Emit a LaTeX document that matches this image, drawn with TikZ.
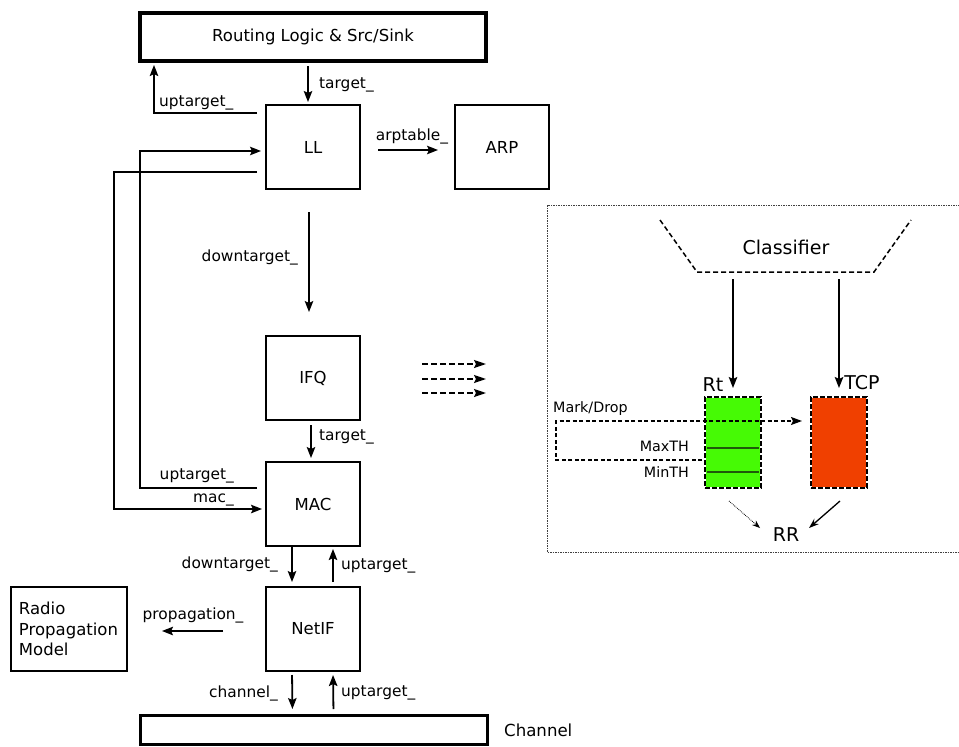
\documentclass[tikz,border=0pt]{standalone}
\usepackage{fontspec}
\setmainfont{DejaVu Sans}
\usetikzlibrary{arrows.meta,calc}
\definecolor{qgreen}{RGB}{70,250,5}
\definecolor{qred}{RGB}{240,64,0}
\definecolor{qline}{RGB}{30,90,10}
\begin{document}
\begin{tikzpicture}[x=1pt,y=-1pt,
  box/.style={draw,line width=2.6pt,inner sep=0pt,outer sep=0pt,minimum width=94pt,minimum height=84pt,font=\fontsize{16.5}{20.5}\selectfont},
  lbl/.style={inner sep=0pt,font=\fontsize{15.4}{18}\selectfont},
  sml/.style={inner sep=0pt,font=\fontsize{14.3}{17}\selectfont},
  big/.style={inner sep=0pt,font=\fontsize{19}{22}\selectfont},
  arr/.style={line width=1.8pt,-{Stealth[length=11pt,width=8.5pt,inset=2pt]}},
  darr/.style={line width=1.8pt,dash pattern=on 6pt off 3pt,-{Stealth[length=12pt,width=8pt,inset=2pt]}},
  queue/.style={draw=white,line width=1.6pt,inner sep=0pt,outer sep=0pt,minimum width=56pt,minimum height=91pt,
     postaction={draw=black,line width=1.6pt,dash pattern=on 5pt off 2pt}},
  markarr/.style={line width=1.5pt,dash pattern=on 4pt off 2.5pt,-{Stealth[length=11pt,width=8pt,inset=2pt]}},
]
\useasboundingbox (0,0) rectangle (959,747);

% main boxes
\node[box,minimum width=346pt,minimum height=48pt,line width=3.2pt] (routing) at (313,37) {Routing Logic \& Src/Sink};
\node[box] (LL) at (313,147) {LL};
\node[box] (ARP) at (502,147) {ARP};
\node[box] (IFQ) at (313,378) {IFQ};
\node[box] (MAC) at (313,504) {MAC};
\node[box] (NetIF) at (313,629) {NetIF};
\node[box,minimum width=116pt,text width=100pt,align=left] (radio) at (69,629) {Radio\\Propagation\\Model};
\node[box,minimum width=347pt,minimum height=29pt,line width=3pt] (channel) at (313.5,729.5) {};
\node[inner sep=0pt,anchor=west,font=\fontsize{16.6}{20}\selectfont] (chlbl) at (504,730) {Channel};

% connectors
\draw[arr,shorten <=5pt,shorten >=3pt] ([shift={(-5,0)}]routing.south) -- ([shift={(-5,0)}]LL.north);
\node[lbl,anchor=west] (l1) at (319,85) {target\_};
\draw[arr,shorten <=9pt,shorten >=4pt] ([shift={(0,-34)}]LL.west) -| ([shift={(14,0)}]routing.south west);
\node[lbl,anchor=west] (l2) at (159,103) {uptarget\_};
\draw[arr,shorten <=18pt,shorten >=17pt] ([shift={(0,3)}]LL.east) -- ([shift={(0,3)}]ARP.west);
\node[lbl] (l3) at (412,136) {arptable\_};
\draw[arr,shorten <=9pt,shorten >=5pt] ([shift={(0,-16)}]MAC.west) -- ++(-126,0) |- ([shift={(0,4)}]LL.west);
\draw[arr,shorten <=9pt,shorten >=4pt] ([shift={(0,25)}]LL.west) -- ++(-152,0) |- ([shift={(0,5)}]MAC.west);
\node[lbl,anchor=east] (l4) at (234,476) {uptarget\_};
\node[lbl,anchor=east] (l5) at (234,500) {mac\_};
\draw[arr,shorten <=23pt,shorten >=24pt] ([shift={(-4,0)}]LL.south) -- ([shift={(-4,0)}]IFQ.north);
\node[lbl,anchor=east] (l6) at (298,257) {downtarget\_};
\draw[arr,shorten <=5pt,shorten >=4pt] ([shift={(-2,0)}]IFQ.south) -- ([shift={(-2,0)}]MAC.north);
\node[lbl,anchor=west] (l7) at (319,437) {target\_};
\draw[arr,shorten <=1pt,shorten >=5pt] ([shift={(-21,0)}]MAC.south) -- ([shift={(-21,0)}]NetIF.north);
\node[lbl,anchor=east] (l8) at (278,564) {downtarget\_};
\draw[arr,shorten <=5pt,shorten >=3pt] ([shift={(20,0)}]NetIF.north) -- ([shift={(20,0)}]MAC.south);
\node[lbl,anchor=west] (l9) at (341,566) {uptarget\_};
\draw[arr,shorten <=43pt,shorten >=35pt] ([shift={(0,2)}]NetIF.west) -- ([shift={(0,2)}]radio.east);
\node[lbl] (l10) at (193,615) {propagation\_};
\draw[arr,shorten <=4pt,shorten >=6pt] ([shift={(-21,0)}]NetIF.south) -- ([shift={(-21,0)}]channel.north);
\node[lbl,anchor=east] (l11) at (278,693) {channel\_};
\draw[arr,shorten <=6pt,shorten >=4pt] ([shift={(20,0)}]channel.north) -- ([shift={(20,0)}]NetIF.south);
\node[lbl,anchor=west] (l12) at (341,693) {uptarget\_};

% three dashed arrows
\draw[darr] ([shift={(62,-14)}]IFQ.east) -- ++(64,0);
\draw[darr] ([shift={(62,1)}]IFQ.east) -- ++(64,0);
\draw[darr] ([shift={(62,15)}]IFQ.east) -- ++(64,0);

% right panel
\draw[black!75,line width=0.9pt,dash pattern=on 1.5pt off 1pt] (962,205) -- (547,205) -- (547,552) -- (962,552);
\draw[line width=1.5pt,dash pattern=on 5pt off 3pt] (660,220) -- (697,272) -- (874,272) -- (911,220);
\node[big] (cls) at (786,247) {Classifier};
\coordinate (clsb) at (786,272);
\node[queue,fill=qgreen] (rtq) at (733,442.5) {};
\node[queue,fill=qred] (tcpq) at (839,442.5) {};
\draw[qline,line width=1.1pt] ([shift={(2,5.5)}]rtq.west) -- ([shift={(-2,5.5)}]rtq.east);
\draw[qline,line width=1.1pt] ([shift={(2,29.5)}]rtq.west) -- ([shift={(-2,29.5)}]rtq.east);
\draw[arr,shorten <=7pt,shorten >=9pt] (clsb -| rtq.north) -- (rtq.north);
\draw[arr,shorten <=7pt,shorten >=9pt] (clsb -| tcpq.north) -- (tcpq.north);
\node[big] (rtl) at (713,385) {Rt};
\node[big] (tcpl) at (862,383) {TCP};
\node[sml,anchor=west] (md) at (553,409) {Mark/Drop};
\node[sml,anchor=east] (maxth) at (689,446) {MaxTH};
\node[sml,anchor=east] (minth) at (689,472) {MinTH};
\draw[markarr,shorten <=3pt,shorten >=9pt] ([shift={(0,17.5)}]rtq.west) -- ++(-149,0) |- ([shift={(0,-21.5)}]tcpq.west);
\node[big] (RR) at (786,535) {RR};
\draw[line width=0.8pt,densely dotted,-{Stealth[length=8pt,width=6pt]}] ([shift={(-4,13)}]rtq.south) -- ([shift={(-26,-7)}]RR.center);
\draw[line width=1.3pt,-{Stealth[length=10pt,width=7pt]}] ([shift={(1,13)}]tcpq.south) -- ([shift={(23,-7)}]RR.center);
\end{tikzpicture}
\end{document}
